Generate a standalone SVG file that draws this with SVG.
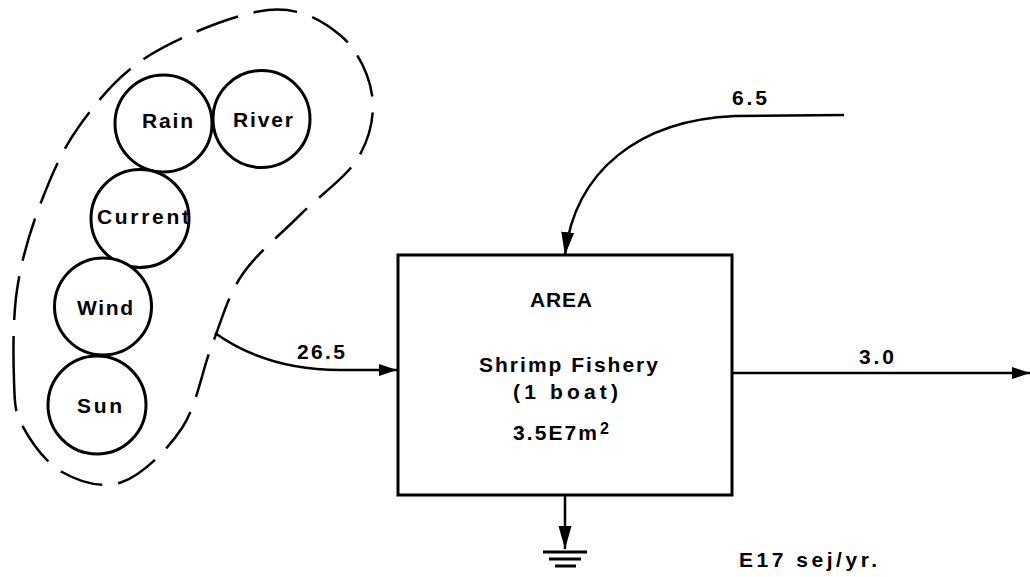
<svg xmlns="http://www.w3.org/2000/svg" width="1030" height="577" viewBox="0 0 1030 577">
<style>
  .src { fill: #fff; stroke: #000; stroke-width: 3; }
  .box { fill: #fff; stroke: #000; stroke-width: 3; }
  .lbl { font-family: "Liberation Sans", Arial, sans-serif; font-weight: bold; font-size: 21px; fill: #000; }
  .edge { fill: none; stroke: #000; stroke-width: 2.5; }
  .blob { fill: none; stroke: #000; stroke-width: 2.5; stroke-dasharray: 44 16; }
  .gnd { stroke: #000; stroke-width: 3; }
</style>
<defs>
  <marker id="arr" markerUnits="userSpaceOnUse" markerWidth="20" markerHeight="14" refX="18" refY="7" orient="auto">
    <path d="M0,1 L18,7 L0,13 Z" fill="#000"/>
  </marker>
  <marker id="arrLong" markerUnits="userSpaceOnUse" markerWidth="24" markerHeight="14" refX="23" refY="7" orient="auto">
    <path d="M0,0.5 L23,7 L0,13.5 Z" fill="#000"/>
  </marker>
</defs>

<g id="boundary">
  <path class="blob" d="M14,380 C13.2,357.5 12.7,319.2 17,290 C21.3,260.8 29.5,232.5 40,205 C50.5,177.5 61.7,150 80,125 C98.3,100 118.7,74.2 150,55 C181.3,35.8 236.3,13.3 268,10 C299.7,6.7 322.7,20.8 340,35 C357.3,49.2 369,74.5 372,95 C375,115.5 370,138 358,158 C346,178 319.3,195.5 300,215 C280.7,234.5 256.7,253.3 242,275 C227.3,296.7 222,319.5 212,345 C202,370.5 197,405.2 182,428 C167,450.8 142,474.7 122,482 C102,489.3 78.7,481.5 62,472 C45.3,462.5 30,440.3 22,425 C14,409.7 14.8,402.5 14,380 Z"/>
</g>

<g id="rain">
  <circle class="src" cx="163.5" cy="123.5" r="48.5"/>
  <text class="lbl" x="142" y="128" textLength="51" lengthAdjust="spacing">Rain</text>
</g>
<g id="river">
  <circle class="src" cx="261.5" cy="119" r="48.5"/>
  <text class="lbl" x="233" y="127" textLength="60" lengthAdjust="spacing">River</text>
</g>
<g id="current">
  <circle class="src" cx="140" cy="218.5" r="49"/>
  <text class="lbl" x="97" y="224" textLength="92" lengthAdjust="spacing">Current</text>
</g>
<g id="wind">
  <circle class="src" cx="103" cy="306.5" r="48.5"/>
  <text class="lbl" x="77" y="315" textLength="56" lengthAdjust="spacing">Wind</text>
</g>
<g id="sun">
  <circle class="src" cx="97" cy="405" r="49"/>
  <text class="lbl" x="77" y="413" textLength="45" lengthAdjust="spacing">Sun</text>
</g>

<g id="area">
  <rect class="box" x="398" y="255" width="334" height="240"/>
  <text class="lbl" x="530" y="307" textLength="62" lengthAdjust="spacing">AREA</text>
  <text class="lbl" x="479" y="372" textLength="179" lengthAdjust="spacing">Shrimp Fishery</text>
  <text class="lbl" x="513" y="399" textLength="105" lengthAdjust="spacing">(1 boat)</text>
  <text class="lbl" x="513" y="440"><tspan textLength="84" lengthAdjust="spacing">3.5E7m</tspan><tspan dx="1" dy="-6" font-size="16px">2</tspan></text>
</g>

<g id="sink">
  <line class="gnd" x1="543" y1="552" x2="587" y2="552"/>
  <line class="gnd" x1="549" y1="559" x2="581" y2="559"/>
  <line class="gnd" x1="555" y1="566" x2="576" y2="566"/>
</g>

<g id="connectors">
  <path class="edge" d="M215,333 C250,358 290,370 340,370 L397,370" marker-end="url(#arr)"/>
  <path class="edge" d="M844,115 L735,116 C640,120 575,170 565,255" marker-end="url(#arrLong)"/>
  <path class="edge" d="M732,373 L1030,373" marker-end="url(#arr)"/>
  <path class="edge" d="M565,495 L565,549" marker-end="url(#arrLong)"/>
</g>

<g id="labels">
  <text class="lbl" x="297" y="359" textLength="48" lengthAdjust="spacing">26.5</text>
  <text class="lbl" x="732" y="105" textLength="35" lengthAdjust="spacing">6.5</text>
  <text class="lbl" x="859" y="364" textLength="35" lengthAdjust="spacing">3.0</text>
  <text class="lbl" x="739" y="567" textLength="138" lengthAdjust="spacing">E17 sej/yr.</text>
</g>
</svg>
